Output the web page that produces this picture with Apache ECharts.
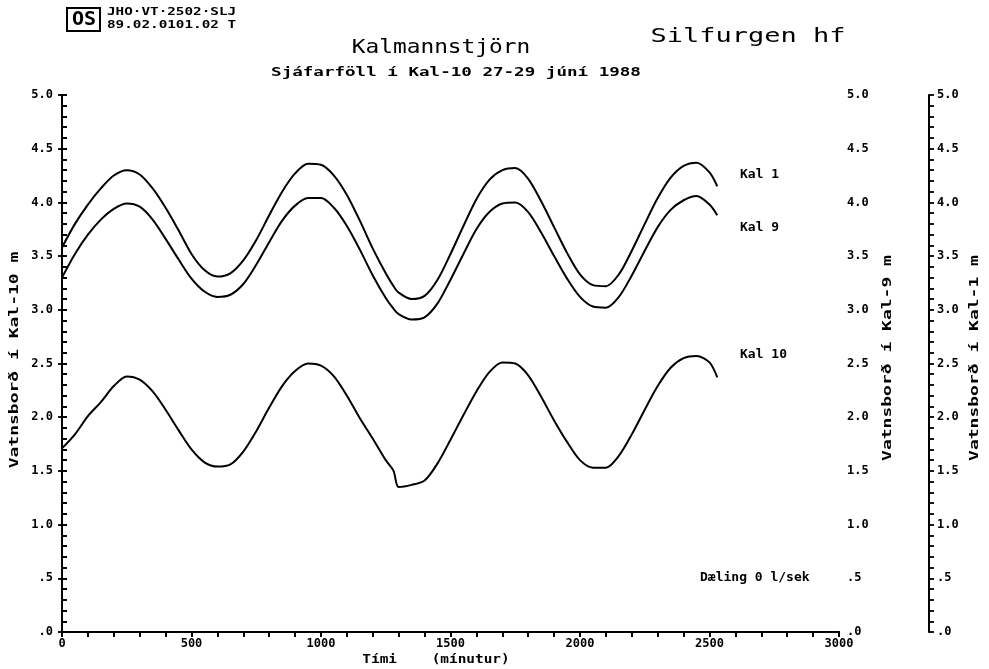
<!DOCTYPE html>
<html>
<head>
<meta charset="utf-8">
<script src="https://cdn.jsdelivr.net/npm/echarts@6/dist/echarts.min.js"></script>
<style>
html,body{margin:0;padding:0;background:#fff;}
#c{width:989px;height:669px;}
</style>
</head>
<body>
<div id="c"></div>
<script>
// Time (minutes)
var timeMin = [0,50,100,150,200,250,300,350,400,450,500,550,600,650,700,750,800,850,900,950,1000,1050,1100,1150,1200,1250,1280,1300,1350,1400,1450,1500,1550,1600,1650,1700,1750,1800,1850,1900,1950,2000,2050,2100,2150,2200,2250,2300,2350,2400,2450,2500,2530];
// Water level Kal 1 (m)
var kal1 = [3.58,3.80,3.98,4.13,4.25,4.30,4.26,4.13,3.95,3.74,3.52,3.37,3.31,3.34,3.46,3.65,3.88,4.10,4.27,4.36,4.35,4.25,4.07,3.83,3.57,3.34,3.22,3.16,3.10,3.13,3.28,3.52,3.78,4.03,4.21,4.30,4.32,4.22,4.01,3.77,3.53,3.33,3.23,3.22,3.33,3.55,3.80,4.04,4.23,4.34,4.37,4.28,4.15];
// Water level Kal 9 (m)
var kal9 = [3.30,3.52,3.70,3.84,3.94,3.99,3.96,3.84,3.66,3.47,3.29,3.17,3.12,3.14,3.24,3.42,3.63,3.83,3.97,4.04,4.04,3.95,3.78,3.56,3.32,3.11,3.01,2.96,2.91,2.93,3.06,3.28,3.52,3.75,3.91,3.99,4.00,3.91,3.72,3.50,3.29,3.12,3.03,3.02,3.12,3.32,3.55,3.77,3.93,4.02,4.06,3.98,3.88];
// Water level Kal 10 (m)
var kal10 = [1.71,1.84,2.01,2.14,2.29,2.38,2.35,2.24,2.07,1.88,1.70,1.58,1.54,1.56,1.68,1.87,2.09,2.29,2.43,2.50,2.48,2.38,2.20,1.99,1.80,1.60,1.50,1.35,1.37,1.41,1.57,1.79,2.02,2.24,2.42,2.51,2.50,2.39,2.19,1.97,1.77,1.60,1.53,1.53,1.64,1.84,2.07,2.29,2.46,2.55,2.57,2.51,2.37];

var seriesNames = ['Kal 1','Kal 9','Kal 10'];
var xTicks = [0,500,1000,1500,2000,2500,3000];

function pair(vals){ return timeMin.map(function(t,i){ return [t, vals[i]]; }); }
function yFmt(v){
  var r = Math.round(v*10)/10;
  if (Math.abs(r*2 - Math.round(r*2)) > 1e-6) return '';
  if (r < 1) return '.' + Math.round(r*10);
  return r.toFixed(1);
}
var FONT = 'DejaVu Sans Mono';
var lab = {fontFamily: FONT, fontWeight: 'bold', fontSize: 12, color: '#000'};
var line = {lineStyle:{color:'#000', width:2}};
var tick = function(inside){ return {show:true, inside:inside, length:5, lineStyle:{color:'#000', width:1.8}}; };

function txt(x, y, s, size, sx, opts){
  opts = opts || {};
  return {type:'text', x:x, y:y, rotation: opts.rot || 0, scaleX: sx, scaleY: 1,
    style:{text:s, fontFamily:FONT, fontSize:size, fontWeight: opts.bold ? 'bold' : 'normal', fill:'#000',
      textAlign: opts.align || 'center', textVerticalAlign:'middle'}};
}

var chart = echarts.init(document.getElementById('c'), null, {renderer:'canvas'});
chart.setOption({
  backgroundColor: '#fff',
  animation: false,
  grid: {left: 62, right: 150, top: 95, bottom: 37, containLabel: false},
  xAxis: [
    {type:'value', position:'bottom', min:0, max:3000, interval:100,
     axisLine: line, axisTick: tick(false),
     axisLabel: Object.assign({margin:6, formatter:function(v){ return xTicks.indexOf(v)>=0 ? String(v) : ''; }, interval:0}, lab),
     splitLine:{show:false}},
    {type:'value', position:'top', min:0, max:3000, interval:100,
     axisLine: line, axisTick: tick(true),
     axisLabel:{show:false}, splitLine:{show:false}}
  ],
  yAxis: [
    {type:'value', position:'left', min:0, max:5, interval:0.1,
     axisLine: line, axisTick: tick(true),
     axisLabel: Object.assign({margin:9, formatter:yFmt, interval:0}, lab),
     splitLine:{show:false}},
    {type:'value', position:'right', offset:0, min:0, max:5, interval:0.1,
     axisLine: line, axisTick: tick(false),
     axisLabel: Object.assign({margin:8, formatter:yFmt, interval:0}, lab),
     splitLine:{show:false}},
    {type:'value', position:'right', offset:90, min:0, max:5, interval:0.1,
     axisLine: line, axisTick: tick(false),
     axisLabel: Object.assign({margin:8, formatter:yFmt, interval:0}, lab),
     splitLine:{show:false}},
    {type:'value', position:'left', min:0, max:5, interval:0.5,
     axisLine:{show:false}, axisTick:{show:true, inside:false, length:4, lineStyle:{color:'#000', width:1.8}},
     axisLabel:{show:false}, splitLine:{show:false}}
  ],
  series: [
    {name:seriesNames[0], type:'line', xAxisIndex:0, yAxisIndex:2, data:pair(kal1), showSymbol:false, smooth:0.3,
     lineStyle:{color:'#000', width:2}},
    {name:seriesNames[1], type:'line', xAxisIndex:0, yAxisIndex:1, data:pair(kal9), showSymbol:false, smooth:0.3,
     lineStyle:{color:'#000', width:2}},
    {name:seriesNames[2], type:'line', xAxisIndex:0, yAxisIndex:0, data:pair(kal10), showSymbol:false, smooth:0.3,
     lineStyle:{color:'#000', width:2}}
  ],
  graphic: [
    {type:'rect', x:67, y:8, shape:{width:33, height:23}, style:{fill:'none', stroke:'#000', lineWidth:2}},
    txt(84, 20, 'OS', 20, 1.0, {bold:true}),
    txt(107, 12, 'JHO·VT·2502·SLJ', 11, 1.3, {bold:true, align:'left'}),
    txt(107, 25, '89.02.0101.02 T', 11, 1.3, {bold:true, align:'left'}),
    txt(748, 37, 'Silfurgen hf', 19, 1.42),
    txt(441, 48, 'Kalmannstjörn', 19, 1.2),
    txt(456, 73, 'Sjáfarföll í Kal-10 27-29 júní 1988', 13, 1.35, {bold:true}),
    txt(15, 360, 'Vatnsborð í Kal-10 m', 12, 1.5, {bold:true, rot:Math.PI/2}),
    txt(888, 358, 'Vatnsborð í Kal-9 m', 12, 1.5, {bold:true, rot:Math.PI/2}),
    txt(975, 358, 'Vatnsborð í Kal-1 m', 12, 1.5, {bold:true, rot:Math.PI/2}),
    txt(436, 660, 'Tími    (mínutur)', 12, 1.2, {bold:true}),
    txt(740, 175, seriesNames[0], 13, 1.0, {bold:true, align:'left'}),
    txt(740, 228, seriesNames[1], 13, 1.0, {bold:true, align:'left'}),
    txt(740, 355, seriesNames[2], 13, 1.0, {bold:true, align:'left'}),
    txt(700, 578, 'Dæling 0 l/sek', 13, 1.0, {bold:true, align:'left'})
  ]
});
</script>
</body>
</html>
